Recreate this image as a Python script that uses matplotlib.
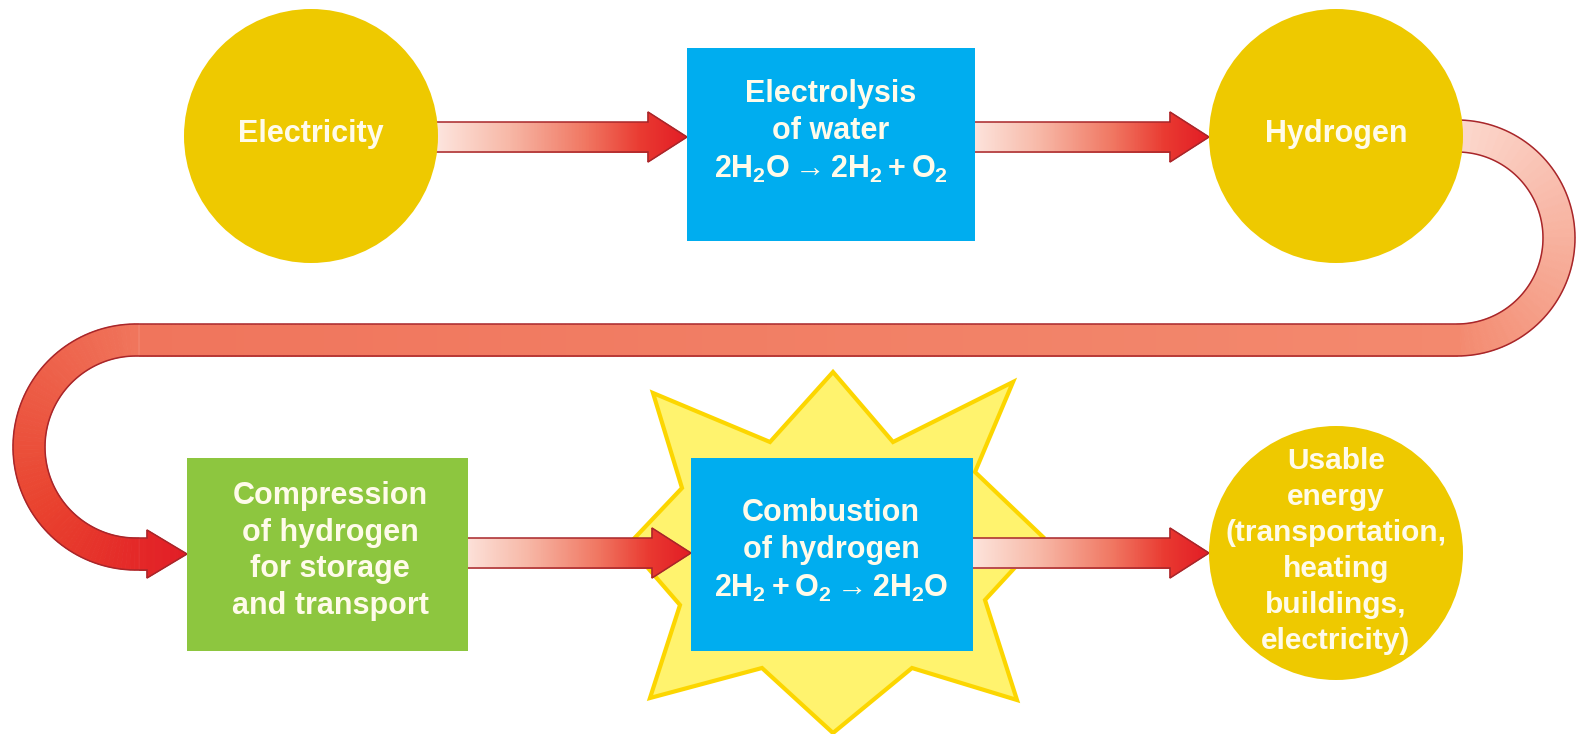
import numpy as np
import matplotlib
matplotlib.use('Agg')
import matplotlib.pyplot as plt
from matplotlib.patches import Circle, Rectangle, Polygon
from matplotlib.collections import PolyCollection
from matplotlib.colors import LinearSegmentedColormap

plt.rcParams['mathtext.fontset'] = 'custom'
plt.rcParams['mathtext.rm'] = 'Liberation Sans:bold'
plt.rcParams['mathtext.bf'] = 'Liberation Sans:bold'
plt.rcParams['mathtext.it'] = 'Liberation Sans:bold'
plt.rcParams['mathtext.sf'] = 'Liberation Sans:bold'

# ---- content ----
circle_labels = ['Electricity', 'Hydrogen',
                 'Usable\nenergy\n(transportation,\nheating\nbuildings,\nelectricity)']
box_labels = ['Electrolysis\nof water\n$2H_2O\\rightarrow 2H_2 + O_2$',
              'Compression\nof hydrogen\nfor storage\nand transport',
              'Combustion\nof hydrogen\n$2H_2 + O_2 \\rightarrow 2H_2O$']

# ---- layout (pixel coordinates, y downward) ----
W, H = 1576, 734
circle_centers = [(311, 136), (1336, 136), (1336, 553)]
circle_radius = 127
boxes = [(687, 48, 288, 193), (187, 458, 281, 193), (691, 458, 282, 193)]
box_colors = ['#00adef', '#8dc63f', '#00adef']
box_text_pos = [(831, 132), (330, 551), (831, 551)]
star_pts = [(653, 393), (770, 442), (833, 372), (893, 442), (1013, 382), (975, 472),
            (1043, 537), (985, 600), (1017, 700), (912, 668), (833, 733), (762, 668),
            (650, 698), (680, 605), (628, 545), (682, 488)]

YEL = '#eec900'
TXT = '#fffbea'
OUT = '#a8262a'
FONT = ['Liberation Sans', 'DejaVu Sans']

fig = plt.figure(figsize=(W / 100, H / 100), dpi=100)
ax = fig.add_axes([0, 0, 1, 1])
ax.set_xlim(0, W)
ax.set_ylim(H, 0)
ax.axis('off')


def draw_arrow(points, hw, head_len, head_hw, cmap, z=3):
    pts = np.asarray(points, float)
    seg = np.diff(pts, axis=0)
    s = np.concatenate([[0], np.cumsum(np.hypot(seg[:, 0], seg[:, 1]))])
    L = s[-1]
    sb = L - head_len
    ss_sh = np.linspace(0, sb, 500)
    ss_hd = np.linspace(sb, L, 40)
    ss = np.concatenate([ss_sh, ss_hd])
    ww = np.concatenate([np.full(len(ss_sh), hw), head_hw * (L - ss_hd) / head_len])
    x = np.interp(ss, s, pts[:, 0])
    y = np.interp(ss, s, pts[:, 1])
    ds = 0.5
    xa = np.interp(np.clip(ss + ds, 0, L), s, pts[:, 0]) - np.interp(np.clip(ss - ds, 0, L), s, pts[:, 0])
    ya = np.interp(np.clip(ss + ds, 0, L), s, pts[:, 1]) - np.interp(np.clip(ss - ds, 0, L), s, pts[:, 1])
    nrm = np.hypot(xa, ya)
    nrm[nrm == 0] = 1
    tx, ty = xa / nrm, ya / nrm
    nx, ny = -ty, tx
    lx, ly = x + nx * ww, y + ny * ww
    rx, ry = x - nx * ww, y - ny * ww
    quads, cols = [], []
    for i in range(len(ss) - 1):
        if ss[i + 1] - ss[i] <= 0:
            continue
        quads.append([(lx[i], ly[i]), (lx[i + 1], ly[i + 1]), (rx[i + 1], ry[i + 1]), (rx[i], ry[i])])
        cols.append(cmap(0.5 * (ss[i] + ss[i + 1]) / L))
    pc = PolyCollection(quads, facecolors=cols, edgecolors=cols, linewidths=0.6, zorder=z)
    ax.add_collection(pc)
    outline = np.vstack([np.column_stack([lx, ly]), np.column_stack([rx[::-1], ry[::-1]])])
    ax.add_patch(Polygon(outline, closed=True, fill=False, edgecolor=OUT, lw=1.1, zorder=z + 0.1,
                         joinstyle='miter'))


straight_cmap = LinearSegmentedColormap.from_list('st', [
    (0.0, '#fde9e3'), (0.3, '#f7b9a8'), (0.6, '#f07863'), (0.82, '#e93a31'), (1.0, '#e21d25')])

# starburst
ax.add_patch(Polygon(star_pts, closed=True, facecolor='#fff36e', edgecolor='#fcd600',
                     lw=3.0, joinstyle='miter', zorder=1))

# straight arrows
for (x0, x1, yc) in [(430, 687, 137), (965, 1209, 137), (455, 691, 553), (965, 1209, 553)]:
    draw_arrow([(x0, yc), (x1, yc)], 15, 39, 25, straight_cmap)

# curved arrow
pts = [(1440, 136), (1457, 136)]
cx, cy, R = 1457, 238, 102
th = np.linspace(0, np.pi, 200)
pts += list(zip(cx + R * np.sin(th), cy - R * np.cos(th)))
cx2, cy2, R2 = 136, 447, 107
pts += [(cx2, cy2 - R2)]
th2 = np.linspace(0, np.pi, 200)
pts += list(zip(cx2 - R2 * np.sin(th2), cy2 - R2 * np.cos(th2)))
pts += [(187, cy2 + R2)]
pa = np.asarray(pts)
segl = np.hypot(*np.diff(pa, axis=0).T)
Ltot = segl.sum()
f1 = (17 + np.pi * R) / Ltot
f2 = (17 + np.pi * R + (1457 - 136)) / Ltot
curve_cmap = LinearSegmentedColormap.from_list('cv', [
    (0.0, '#fcdcd2'), (f1, '#f3896e'), (f2, '#f0755c'), (f2 + 0.6 * (1 - f2), '#e9432f'),
    (1.0, '#e21d25')])
draw_arrow(pts, 16, 40, 24, curve_cmap)

# circles
for c in circle_centers:
    ax.add_patch(Circle(c, circle_radius, facecolor=YEL, edgecolor='none', zorder=5))
for i, (c, lab) in enumerate(zip(circle_centers, circle_labels)):
    fs = 22 if i < 2 else 21.5
    ls = 1.22 if i < 2 else 1.36
    ax.text(c[0], c[1] - 2, lab, ha='center', va='center', color=TXT, fontsize=fs,
            fontweight='bold', family=FONT, linespacing=ls, zorder=6)

# boxes
for (bx, by, bw, bh), col in zip(boxes, box_colors):
    ax.add_patch(Rectangle((bx, by), bw, bh, facecolor=col, edgecolor='none', zorder=5))
for (tx, ty), lab in zip(box_text_pos, box_labels):
    ax.text(tx, ty, lab, ha='center', va='center', color=TXT, fontsize=22,
            fontweight='bold', family=FONT, linespacing=1.3, zorder=6)

fig.savefig('out.png', dpi=100, facecolor='white')
